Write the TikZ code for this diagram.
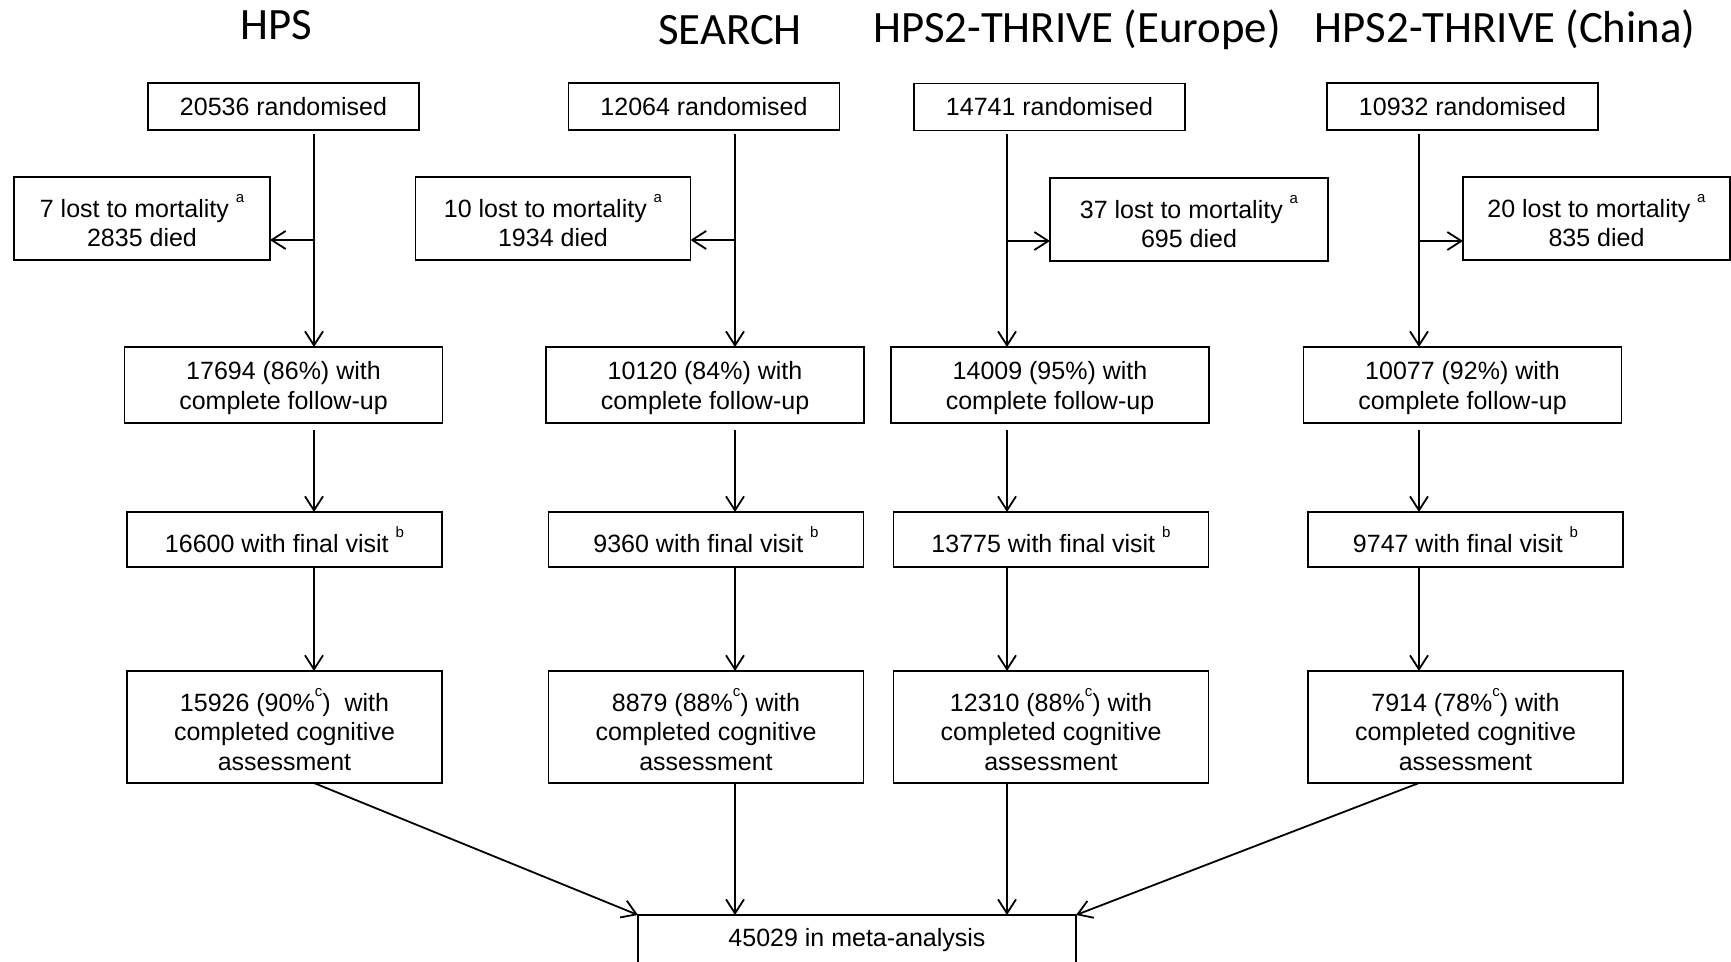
\documentclass[tikz,border=0pt]{standalone}
\usepackage{fontspec}
\setmainfont{Liberation Sans}
\newfontfamily\titlefont{Carlito}
\usetikzlibrary{arrows.meta}
\newcommand{\supm}[1]{\raisebox{7.5pt}{\fontsize{7.5}{8}\selectfont #1}}
\newcommand{\tallfu}{\rule{0pt}{12pt}}
\newcommand{\tallcog}{\rule{0pt}{14pt}}
\newcommand{\tallloss}{\rule{0pt}{13.5pt}}
\begin{document}
\begin{tikzpicture}[x=0.5pt,y=-0.5pt,
  box/.style={draw, line width=0.9pt, inner sep=0pt, outer sep=0pt, align=center,
    font=\fontsize{12.5}{14.85}\selectfont},
  randbox/.style={box, minimum width=135.5pt, minimum height=23.5pt},
  lossbox/.style={box, minimum height=41.5pt},
  fubox/.style={box, minimum width=159pt, minimum height=38pt},
  fvbox/.style={box, minimum width=157.5pt, minimum height=27.5pt},
  cogbox/.style={box, minimum width=157.5pt, minimum height=56pt},
  ttl/.style={font=\titlefont\fontsize{22.4}{26}\selectfont, anchor=base, inner sep=0pt},
  arr/.style={line width=0.9pt, -{Straight Barb[length=7pt,width=9pt,line width=0.9pt]}},
]
\fill[white] (0,0) rectangle (1731,962);
\useasboundingbox (0,0) rectangle (1731,962);

% titles
\node[ttl] (t1) at (276,40) {HPS};
\node[ttl] (t2) at (730,45) {SEARCH};
\node[ttl] (t3) at (1077,43) {HPS2-THRIVE (Europe)};
\node[ttl] (t4) at (1505,43) {HPS2-THRIVE (China)};

% column line positions
\coordinate (x1) at (314,0);
\coordinate (x2) at (735,0);
\coordinate (x3) at (1007,0);
\coordinate (x4) at (1419,0);
\coordinate (l1) at (314,240);
\coordinate (l2) at (735,240);
\coordinate (l3) at (1007,241);
\coordinate (l4) at (1419,241);

% HPS
\node[randbox] (r1) at (283.5,106.5) {20536 randomised};
\node[lossbox, minimum width=128pt] (d1) at (142,218.5) {\tallloss 7 lost to mortality \supm{a}\\2835 died};
\node[fubox] (f1) at (283.5,385) {\tallfu 17694 (86\%) with\\complete follow-up};
\node[fvbox] (v1) at (284.5,539.5) {16600 with final visit \supm{b}};
\node[cogbox] (c1) at (284.5,727) {\tallcog 15926 (90\%\supm{c})\ \ with\\completed cognitive\\assessment};

% SEARCH
\node[randbox] (r2) at (704,106.5) {12064 randomised};
\node[lossbox, minimum width=137.5pt] (d2) at (553,218.5) {\tallloss 10 lost to mortality \supm{a}\\1934 died};
\node[fubox] (f2) at (705,385) {\tallfu 10120 (84\%) with\\complete follow-up};
\node[fvbox] (v2) at (706,539.5) {9360 with final visit \supm{b}};
\node[cogbox] (c2) at (706,727) {\tallcog 8879 (88\%\supm{c}) with\\completed cognitive\\assessment};

% HPS2-THRIVE Europe
\node[randbox] (r3) at (1049.5,107) {14741 randomised};
\node[lossbox, minimum width=139pt] (d3) at (1189,219.5) {\tallloss 37 lost to mortality \supm{a}\\695 died};
\node[fubox] (f3) at (1050,385) {\tallfu 14009 (95\%) with\\complete follow-up};
\node[fvbox] (v3) at (1051,539.5) {13775 with final visit \supm{b}};
\node[cogbox] (c3) at (1051,727) {\tallcog 12310 (88\%\supm{c}) with\\completed cognitive\\assessment};

% HPS2-THRIVE China
\node[randbox] (r4) at (1462.5,106.5) {10932 randomised};
\node[lossbox, minimum width=133.5pt] (d4) at (1596.5,218.5) {\tallloss 20 lost to mortality \supm{a}\\835 died};
\node[fubox] (f4) at (1462.5,385) {\tallfu 10077 (92\%) with\\complete follow-up};
\node[fvbox] (v4) at (1465.5,539.5) {9747 with final visit \supm{b}};
\node[cogbox] (c4) at (1465.5,727) {\tallcog 7914 (78\%\supm{c}) with\\completed cognitive\\assessment};

% meta-analysis
\node[box, minimum width=219pt, minimum height=25pt] (m) at (857,940) {45029 in meta-analysis};

% connectors
\foreach \i in {1,2,3,4}{
  \draw[arr, shorten <=2pt] (r\i.south -| x\i) -- (f\i.north -| x\i);
  \draw[arr, shorten <=3.5pt] (f\i.south -| x\i) -- (v\i.north -| x\i);
  \draw[arr] (v\i.south -| x\i) -- (c\i.north -| x\i);
}
\draw[arr] (l1) -- (l1 -| d1.east);
\draw[arr] (l2) -- (l2 -| d2.east);
\draw[arr] (l3) -- (l3 -| d3.west);
\draw[arr] (l4) -- (l4 -| d4.west);

\draw[arr] (c1.south -| x1) -- (m.north west);
\draw[arr] (c2.south -| x2) -- (x2 |- m.north);
\draw[arr] (c3.south -| x3) -- (x3 |- m.north);
\draw[arr] (c4.south -| x4) -- (m.north east);
\end{tikzpicture}
\end{document}
